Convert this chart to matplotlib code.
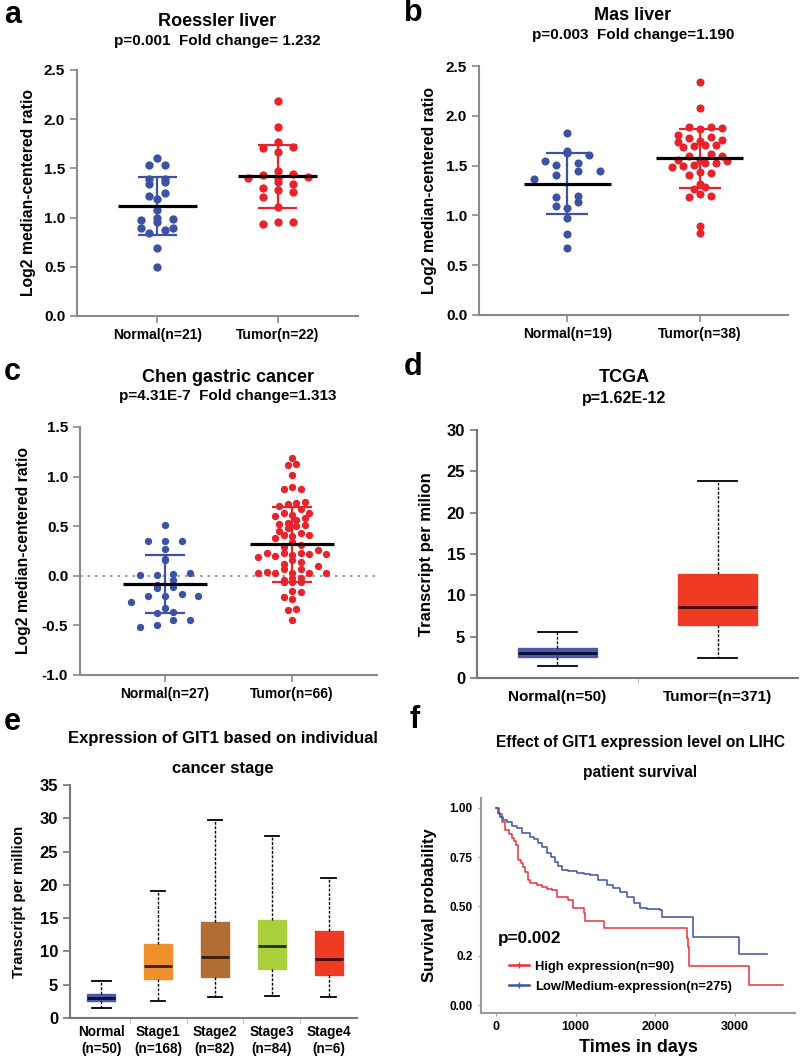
import numpy as np
import matplotlib
matplotlib.use('Agg')
import matplotlib.pyplot as plt
from matplotlib.lines import Line2D

plt.rcParams['font.family'] = ['Liberation Sans', 'DejaVu Sans']
plt.rcParams['font.weight'] = 'bold'
plt.rcParams['axes.labelweight'] = 'bold'

# ---------------- data ----------------
# panel a: Roessler liver
a_labels = ['Normal(n=21)', 'Tumor(n=22)']
a_normal = [1.61, 1.53, 1.53, 1.39, 1.39, 1.36, 1.34, 1.25, 1.22, 1.19, 1.08,
            1.00, 0.99, 0.98, 0.96, 0.89, 0.87, 0.89, 0.84, 0.69, 0.50]
a_tumor = [2.19, 1.92, 1.77, 1.71, 1.72, 1.67, 1.47, 1.43, 1.40, 1.44, 1.40,
           1.41, 1.36, 1.34, 1.26, 1.30, 1.28, 1.21, 1.11, 0.96, 0.955, 0.935]
a_mean = [1.114, 1.42]
a_sd = [0.295, 0.32]

# panel b: Mas liver
b_labels = ['Normal(n=19)', 'Tumor(n=38)']
b_normal = [1.83, 1.61, 1.65, 1.63, 1.51, 1.45, 1.53, 1.55, 1.45, 1.41, 1.37,
            1.19, 1.18, 1.13, 1.09, 1.07, 0.97, 0.81, 0.67]
b_tumor = [2.34, 2.08, 1.87, 1.88, 1.89, 1.89, 1.81, 1.74, 1.78, 1.70, 1.71,
           1.71, 1.75, 1.76, 1.79, 1.69, 1.56, 1.60, 1.60, 1.62, 1.53, 1.53,
           1.50, 1.51, 1.56, 1.49, 1.55, 1.43, 1.41, 1.44, 1.27, 1.32, 1.29,
           1.21, 1.19, 1.18, 0.89, 0.82]
b_mean = [1.32, 1.574]
b_sd = [0.31, 0.295]

# panel c: Chen gastric cancer
c_labels = ['Normal(n=27)', 'Tumor(n=66)']
c_normal = [0.515, 0.353, 0.353, 0.353, 0.27, 0.155, 0.17, 0.01, 0.01, 0.03,
            0.017, -0.047, -0.114, -0.09, -0.125, -0.185, -0.20, -0.20, -0.20,
            -0.26, -0.32, -0.38, -0.367, -0.444, -0.45, -0.495, -0.52]
c_tumor = [1.19, 1.12, 1.13, 1.02, 0.87, 0.88, 0.90, 0.72, 0.73, 0.74, 0.67,
           0.70, 0.60, 0.63, 0.61, 0.63, 0.58, 0.56, 0.50, 0.48, 0.52, 0.53,
           0.51, 0.43, 0.41, 0.45, 0.41, 0.40, 0.38, 0.34, 0.29, 0.31, 0.19,
           0.20, 0.26, 0.23, 0.21, 0.23, 0.22, 0.22, 0.23, 0.16, 0.14, 0.12,
           0.07, 0.07, 0.10, 0.03, 0.03, 0.03, 0.03, 0.03, 0.04, -0.02, -0.02,
           -0.06, -0.06, -0.06, -0.04, -0.15, -0.16, -0.21, -0.23, -0.33,
           -0.34, -0.45]
c_mean = [-0.08, 0.316]
c_sd = [0.29, 0.377]

# panel d: TCGA boxplot (whislo, q1, median, q3, whishi)
d_labels = ['Normal(n=50)', 'Tumor=(n=371)']
d_whislo = [1.45, 2.46]
d_q1 = [2.54, 6.38]
d_med = [3.07, 8.6]
d_q3 = [3.67, 12.56]
d_whishi = [5.53, 23.86]

# panel e: cancer stage boxplot
e_labels = ['Normal\n(n=50)', 'Stage1\n(n=168)', 'Stage2\n(n=82)', 'Stage3\n(n=84)', 'Stage4\n(n=6)']
e_whislo = [1.50, 2.51, 3.16, 3.26, 3.16]
e_q1 = [2.56, 5.92, 6.17, 7.37, 6.42]
e_med = [3.06, 7.77, 9.18, 10.78, 8.93]
e_q3 = [3.66, 11.08, 14.39, 14.69, 13.09]
e_whishi = [5.52, 19.1, 29.74, 27.33, 21.06]

# panel f: survival curves (step points)
high_t = [0, 40, 71, 113, 160, 197, 230, 251, 280, 320, 343, 364, 405, 430,
          520, 573, 640, 699, 761, 908, 971, 1104, 1117, 1355, 2392, 2410,
          2427, 3178, 3605]
high_s = [1.0, 0.97, 0.93, 0.89, 0.87, 0.846, 0.83, 0.81, 0.736, 0.72, 0.70,
          0.677, 0.635, 0.62, 0.61, 0.597, 0.59, 0.584, 0.55, 0.533, 0.49,
          0.465, 0.428, 0.389, 0.339, 0.296, 0.20, 0.10, 0.10]
low_t = [0, 25, 50, 90, 134, 200, 259, 330, 427, 480, 531, 580, 636, 690, 740,
         780, 824, 900, 1012, 1100, 1179, 1280, 1388, 1470, 1556, 1650, 1730,
         1807, 1900, 2058, 2079, 2476, 3053, 3404]
low_s = [1.0, 0.975, 0.956, 0.94, 0.93, 0.91, 0.897, 0.875, 0.854, 0.84, 0.82,
         0.80, 0.77, 0.75, 0.727, 0.705, 0.685, 0.68, 0.672, 0.665, 0.66, 0.635,
         0.609, 0.595, 0.575, 0.55, 0.52, 0.49, 0.488, 0.482, 0.448, 0.347,
         0.259, 0.259]

BLUE = '#3d52a3'
RED = '#e8232b'
GREY = '#8a8a8a'

W, H = 800, 1057
fig = plt.figure(figsize=(8, 10.57), dpi=100)


def add_ax(x0, y0, x1, y1):
    return fig.add_axes([x0 / W, 1 - y1 / H, (x1 - x0) / W, (y1 - y0) / H])


def ftext(x, y, s, size, ha='center', va='center', **kw):
    fig.text(x / W, 1 - y / H, s, fontsize=size, fontweight='bold', ha=ha, va=va, **kw)


def row_x(ax, vals, center, row_h, step):
    """Prism-like scatter layout: group points into rows, spread each row symmetrically."""
    vals = np.asarray(vals, float)
    pts = ax.transData.transform(np.column_stack([np.full(len(vals), center), vals]))
    ypx = pts[:, 1]
    ux = ax.transData.transform([(1, 0)])[0, 0] - ax.transData.transform([(0, 0)])[0, 0]
    bins = np.floor(ypx / row_h + 0.5).astype(int)
    off = np.zeros(len(vals))
    for b in np.unique(bins):
        idx = np.where(bins == b)[0]
        n = len(idx)
        offs = (np.arange(n) - (n - 1) / 2) * step
        order = np.argsort(vals[idx])
        perm = np.empty(n, int)
        perm[order] = np.arange(n)
        off[idx] = offs[(perm * 2) % n if n % 2 == 1 else perm]
    return center + off / ux


def style_axes(ax, spine_color=GREY):
    for s in ['top', 'right']:
        ax.spines[s].set_visible(False)
    for s in ['left', 'bottom']:
        ax.spines[s].set_color(spine_color)
        ax.spines[s].set_linewidth(1.5)
    ax.tick_params(colors=spine_color, labelcolor='black', width=1.2, length=5)


def scatter_panel(ax, labels, groups, means, sds, ylim, yticks, ylabels, layouts, msize):
    ax.set_xlim(0.333, 2.667)
    ax.set_ylim(*ylim)
    colors = [BLUE, RED]
    for i, (vals, m, s, c, lay) in enumerate(zip(groups, means, sds, colors, layouts)):
        xs = row_x(ax, vals, i + 1, lay[0], lay[1])
        ax.scatter(xs, vals, s=msize, color=c, zorder=3, linewidths=0)
        ax.vlines(i + 1, m - s, m + s, color=c, lw=1.6, zorder=4)
        ax.hlines([m - s, m + s], i + 1 - 0.16, i + 1 + 0.16, color=c, lw=1.6, zorder=4)
        ax.hlines(m, i + 1 - 0.33, i + 1 + 0.33, color='black', lw=2.3, zorder=5)
    ax.set_xticks([1, 2])
    ax.set_xticklabels(labels, fontsize=10, fontweight='bold')
    ax.set_yticks(yticks)
    ax.set_yticklabels(ylabels, fontsize=11, fontweight='bold')
    ax.set_ylabel('Log2 median-centered ratio', fontsize=11.3, fontweight='bold')
    style_axes(ax)
    ax.spines['left'].set_bounds(ylim[0], yticks[-1])


# ---------------- panel a ----------------
ax_a = add_ax(77, 70, 358, 316)
scatter_panel(ax_a, a_labels, [a_normal, a_tumor], a_mean, a_sd, (0, 2.5),
              [0, 0.5, 1.0, 1.5, 2.0, 2.5], ['0.0', '0.5', '1.0', '1.5', '2.0', '2.5'],
              [(8, 16), (8, 15)], 36)
ax_a.yaxis.set_label_coords(-0.145, 0.5)
ftext(217, 22, 'Roessler liver', 13)
ftext(217, 41, 'p=0.001  Fold change= 1.232', 11)
ftext(4, 15, 'a', 22, ha='left')

# ---------------- panel b ----------------
ax_b = add_ax(479, 66, 788, 315)
scatter_panel(ax_b, b_labels, [b_normal, b_tumor], b_mean, b_sd, (0, 2.5),
              [0, 0.5, 1.0, 1.5, 2.0, 2.5], ['0.0', '0.5', '1.0', '1.5', '2.0', '2.5'],
              [(9, 22), (8.5, 11)], 34)
ax_b.yaxis.set_label_coords(-0.135, 0.5)
ftext(633, 16, 'Mas liver', 13)
ftext(633, 35, 'p=0.003  Fold change=1.190', 11)
ftext(404, 13, 'b', 22, ha='left')

# ---------------- panel c ----------------
ax_c = add_ax(80, 427, 377, 675)
scatter_panel(ax_c, c_labels, [c_normal, c_tumor], c_mean, c_sd, (-1.0, 1.5),
              [-1.0, -0.5, 0, 0.5, 1.0, 1.5], ['-1.0', '-0.5', '0.0', '0.5', '1.0', '1.5'],
              [(8.5, 16.7), (8, 8.5)], 28)
ax_c.axhline(0, color=GREY, lw=1.2, ls=(0, (1.5, 3)), zorder=1)
ax_c.yaxis.set_label_coords(-0.165, 0.5)
ftext(228, 377, 'Chen gastric cancer', 13)
ftext(228, 396, 'p=4.31E-7  Fold change=1.313', 11)
ftext(4, 372, 'c', 22, ha='left')


# ---------------- box panels ----------------
def box_panel(ax, labels, whislo, q1, med, q3, whishi, colors, medcolors, capw, fs):
    stats = []
    for i in range(len(labels)):
        stats.append(dict(whislo=whislo[i], q1=q1[i], med=med[i], q3=q3[i], whishi=whishi[i], fliers=[]))
    pos = list(range(1, len(labels) + 1))
    bp = ax.bxp(stats, positions=pos, widths=0.49, patch_artist=True, showfliers=False,
                capwidths=capw,
                whiskerprops=dict(color='black', lw=1.0, ls=(0, (2, 1.2))),
                capprops=dict(color='black', lw=1.3),
                medianprops=dict(color='black', lw=2))
    for patch, c in zip(bp['boxes'], colors):
        patch.set_facecolor(c)
        patch.set_edgecolor(c)
    for mline, mc in zip(bp['medians'], medcolors):
        mline.set_color(mc)
    ax.set_xticks(pos)
    ax.set_xticklabels(labels, fontsize=fs, fontweight='bold')
    ax.set_xticks([p + 0.5 for p in pos[:-1]], minor=True)


# panel d
ax_d = add_ax(477, 430, 798, 678)
box_panel(ax_d, d_labels, d_whislo, d_q1, d_med, d_q3, d_whishi,
          ['#4b59a7', '#ef3b24'], ['#0b0b3a', '#3a0a08'], [0.24, 0.24], 11)
ax_d.set_xlim(0.5, 2.5)
ax_d.set_ylim(0, 30)
ax_d.set_yticks([0, 5, 10, 15, 20, 25, 30])
ax_d.set_yticklabels(['0', '5', '10', '15', '20', '25', '30'], fontsize=12, fontweight='bold')
ax_d.set_ylabel('Transcript per milion', fontsize=12, fontweight='bold')
ax_d.yaxis.set_label_coords(-0.135, 0.5)
style_axes(ax_d, '#777777')
ax_d.tick_params(axis='x', which='major', length=0, pad=9)
ax_d.tick_params(axis='x', which='minor', length=4, color='#bbbbbb')
ftext(624, 378, 'TCGA', 13)
ftext(624, 398, 'p=1.62E-12', 11.5)
ftext(404, 367, 'd', 22, ha='left')

# panel e
ax_e = add_ax(70, 785, 357, 1018)
box_panel(ax_e, e_labels, e_whislo, e_q1, e_med, e_q3, e_whishi,
          ['#4b59a7', '#f0902a', '#b06d34', '#a9cf3a', '#ef3b24'],
          ['#0b0b3a', '#3a1a05', '#3a1a05', '#2a2a05', '#3a0a08'],
          [0.33, 0.25, 0.25, 0.25, 0.25], 9.8)
ax_e.set_xlim(0.45, 5.5)
ax_e.set_ylim(0, 35)
ax_e.set_yticks([0, 5, 10, 15, 20, 25, 30, 35])
ax_e.set_yticklabels(['0', '5', '10', '15', '20', '25', '30', '35'], fontsize=12, fontweight='bold')
ax_e.set_ylabel('Transcript per million', fontsize=10.8, fontweight='bold')
ax_e.yaxis.set_label_coords(-0.155, 0.5)
style_axes(ax_e, '#777777')
ax_e.tick_params(axis='x', which='major', length=0, pad=5)
ax_e.tick_params(axis='x', which='minor', length=4, color='#bbbbbb')
for t in ax_e.get_xticklabels():
    t.set_linespacing(1.3)
ftext(223, 738, 'Expression of GIT1 based on individual', 12)
ftext(223, 768, 'cancer stage', 12)
ftext(4, 722, 'e', 22, ha='left')

# ---------------- panel f ----------------
ax_f = add_ax(481, 798, 795, 1013)
ax_f.step(high_t, high_s, where='post', color='#e8323a', lw=1.1)
ax_f.step(low_t, low_s, where='post', color='#3d52a3', lw=1.1)
ax_f.set_xlim(-188, 3752)
ax_f.set_ylim(-0.04, 1.05)
ax_f.set_xticks([0, 1000, 2000, 3000])
ax_f.set_xticklabels(['0', '1000', '2000', '3000'], fontsize=9, fontweight='bold')
ax_f.set_yticks([0, 0.25, 0.5, 0.75, 1.0])
ax_f.set_yticklabels(['0.00', '0.2', '0.50', '0.75', '1.00'], fontsize=8.5, fontweight='bold')
style_axes(ax_f, '#9a9a9a')
ax_f.tick_params(length=2.5, width=0.8)
ax_f.set_ylabel('Survival probability', fontsize=12, fontweight='bold')
ax_f.yaxis.set_label_coords(-0.14, 0.5)
ax_f.set_xlabel('Times in days', fontsize=13, fontweight='bold', labelpad=4)
ax_f.text(20, 0.34, 'p=0.002', fontsize=12.3, fontweight='bold', ha='left', va='center')
handles = [Line2D([], [], color='#e8323a', lw=1.8, marker='+', markersize=5),
           Line2D([], [], color='#3d52a3', lw=1.8, marker='+', markersize=5)]
ax_f.legend(handles, ['High expression(n=90)', 'Low/Medium-expression(n=275)'],
            loc='center left', bbox_to_anchor=(0.09, 0.17), frameon=False,
            handlelength=1.5, handletextpad=0.5, labelspacing=0.6, borderpad=0,
            borderaxespad=0, prop=dict(size=9.4, weight='bold'))
ftext(640, 743, 'Effect of GIT1 expression level on LIHC', 11.2)
ftext(640, 772, 'patient survival', 11.2)
ftext(410, 720, 'f', 22, ha='left')

fig.savefig('out.png', dpi=100)
